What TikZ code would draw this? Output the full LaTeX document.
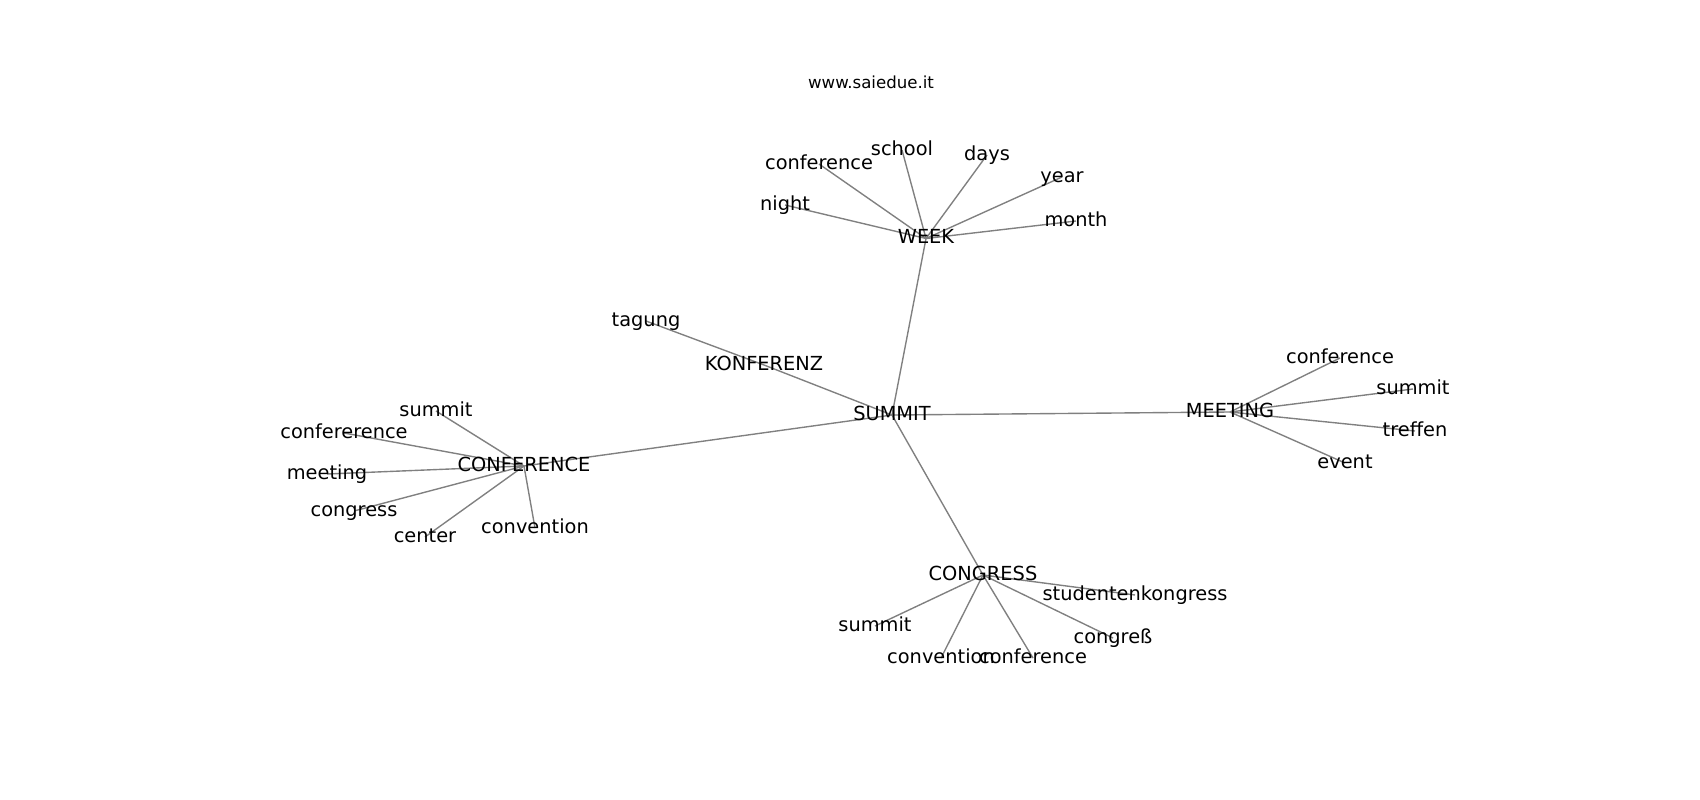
\documentclass[tikz,border=0pt]{standalone}
\usepackage{fontspec}
\setmainfont{DejaVu Sans}
\pgfdeclarelayer{background}
\pgfsetlayers{background,main}
\tikzset{
  lbl/.style={font=\fontsize{14}{17}\selectfont, inner sep=0pt, outer sep=0pt, text height=10.64pt, text depth=2.91pt, anchor=center},
  ttl/.style={font=\fontsize{12}{14}\selectfont, inner sep=0pt, anchor=base},
  edge/.style={draw=gray, line width=1pt}
}
\begin{document}
\begin{tikzpicture}[x=0.72bp,y=-0.72bp]
\useasboundingbox (0,0) rectangle (1700,800);
\node[ttl] (title) at (871,88) {www.saiedue.it};
% hubs
\node[lbl] (summit) at (892,415) {SUMMIT};
\node[lbl] (week) at (926,238.5) {WEEK};
\node[lbl] (konf) at (764,365) {KONFERENZ};
\node[lbl] (conf) at (524,466) {CONFERENCE};
\node[lbl] (meet) at (1230,412) {MEETING};
\node[lbl] (cong) at (983,575) {CONGRESS};
% week leaves
\node[lbl] (w1) at (819,164) {conference};
\node[lbl] (w2) at (902,150) {school};
\node[lbl] (w3) at (987,155) {days};
\node[lbl] (w4) at (1062,177) {year};
\node[lbl] (w5) at (1076,221) {month};
\node[lbl] (w6) at (785,205) {night};
% konferenz leaf
\node[lbl] (k1) at (646,321) {tagung};
% conference leaves
\node[lbl] (c1) at (436,411) {summit};
\node[lbl] (c2) at (344,433) {confererence};
\node[lbl] (c3) at (327,474) {meeting};
\node[lbl] (c4) at (354,511) {congress};
\node[lbl] (c5) at (425,537) {center};
\node[lbl] (c6) at (535,528) {convention};
% meeting leaves
\node[lbl] (m1) at (1340,358) {conference};
\node[lbl] (m2) at (1413,389) {summit};
\node[lbl] (m3) at (1415,431) {treffen};
\node[lbl] (m4) at (1345,463) {event};
% congress leaves
\node[lbl] (g1) at (1135,595) {studentenkongress};
\node[lbl] (g2) at (875,626) {summit};
\node[lbl] (g3) at (941,658) {convention};
\node[lbl] (g4) at (1033,658) {conference};
\node[lbl] (g5) at (1113,638) {congreß};
\begin{pgfonlayer}{background}
\foreach \a/\b in {summit/week, summit/konf, summit/conf, summit/meet, summit/cong,
  week/w1, week/w2, week/w3, week/w4, week/w5, week/w6, konf/k1,
  conf/c1, conf/c2, conf/c3, conf/c4, conf/c5, conf/c6,
  meet/m1, meet/m2, meet/m3, meet/m4,
  cong/g1, cong/g2, cong/g3, cong/g4, cong/g5}
  \draw[edge] (\a.center) -- (\b.center);
\end{pgfonlayer}
\end{tikzpicture}
\end{document}
